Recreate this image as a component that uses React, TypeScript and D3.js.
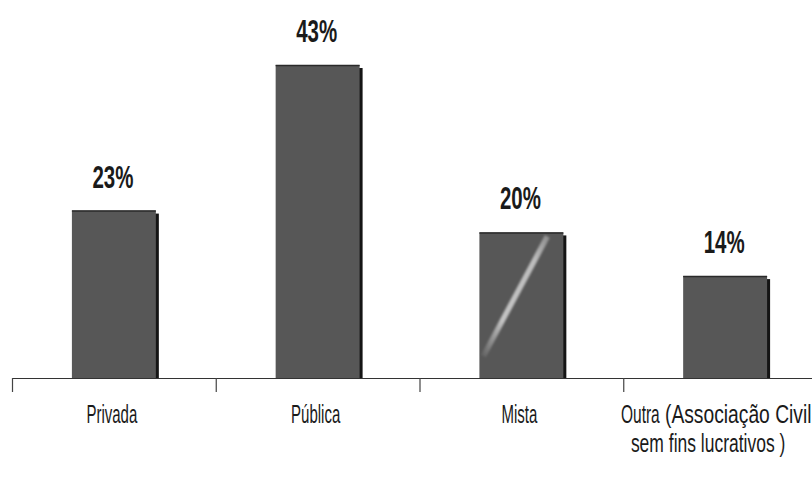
import React from "react";
import * as d3 from "d3";

const categories = ["Privada", "Pública", "Mista", "Outra"];
const values = [23, 43, 20, 14];
const valueLabels = ["23%", "43%", "20%", "14%"];
const categoryLabelLines = [
  ["Privada"],
  ["Pública"],
  ["Mista"],
  ["Outra", "(Associação Civil", "sem fins lucrativos )"],
];

const W = 812;
const H = 481;

export default function App() {
  const x = d3.scaleBand<string>().domain(categories).range([12, 827]).paddingInner(0.588).paddingOuter(0.294);
  const y = d3.scaleLinear().domain([0, 43]).range([378, 65]);
  const step = x.step();
  const tickXs = categories.map((c, i) => 12 + i * step);
  const font = "'Liberation Sans', Arial, sans-serif";
  const labelStyle = { fontFamily: font, fontSize: 25, fill: "#1a1a1a" };

  return (
    <div style={{ position: "fixed", left: 0, top: 0, width: W, height: H, background: "#fff" }}>
      <svg width={W} height={H} style={{ display: "block" }}>
        <defs>
          <linearGradient id="streak" x1="0" y1="1" x2="1" y2="0">
            <stop offset="0" stopColor="#d8d8d8" stopOpacity="0.1" />
            <stop offset="0.3" stopColor="#d0d0d0" stopOpacity="0.9" />
            <stop offset="0.8" stopColor="#c8c8c8" stopOpacity="0.9" />
            <stop offset="1" stopColor="#c8c8c8" stopOpacity="0.5" />
          </linearGradient>
          <filter id="blur" x="-20%" y="-20%" width="140%" height="140%">
            <feGaussianBlur stdDeviation="1.3" />
          </filter>
        </defs>
        {categories.map((c, i) => {
          const bx = x(c)!;
          const bw = x.bandwidth();
          const by = y(values[i]);
          const bh = y(0) - by;
          return (
            <g key={c}>
              <rect x={bx + 3} y={by + 3} width={bw} height={bh - 3} fill="#151515" />
              <rect x={bx} y={by} width={bw} height={bh} fill="#575757" />
              <line x1={bx} x2={bx + bw} y1={by + 0.5} y2={by + 0.5} stroke="#2a2a2a" strokeWidth={1.5} />
              {c === "Mista" && (
                <line
                  x1={bx + 4}
                  y1={y(0) - 22}
                  x2={bx + bw - 16}
                  y2={by + 4}
                  stroke="url(#streak)"
                  strokeWidth={5.5}
                  filter="url(#blur)"
                />
              )}
              <text
                transform={`translate(${bx + bw / 2 - 1}, ${by - 23}) scale(0.66,1)`}
                textAnchor="middle"
                fontFamily={font}
                fontWeight="bold"
                fontSize={31}
                fill="#1a1a1a"
              >
                {valueLabels[i]}
              </text>
            </g>
          );
        })}
        <line x1={12} x2={W} y1={378.5} y2={378.5} stroke="#333" strokeWidth={1.2} />
        {tickXs.map((tx) => (
          <line key={tx} x1={tx + 0.5} x2={tx + 0.5} y1={378} y2={392} stroke="#444" strokeWidth={1.2} />
        ))}
        {categories.map((c, i) => {
          const cx = x(c)! + x.bandwidth() / 2;
          const lines = categoryLabelLines[i];
          if (lines.length === 1) {
            return (
              <text key={c} transform={`translate(${cx - 2}, 423) scale(0.6,1)`} textAnchor="middle" {...labelStyle}>
                {lines[0]}
              </text>
            );
          }
          return (
            <g key={c}>
              <text transform={`translate(621, 423) scale(0.62,1)`} textAnchor="start" {...labelStyle}>
                {lines[0]}
              </text>
              <text transform={`translate(665, 423) scale(0.77,1)`} textAnchor="start" {...labelStyle}>
                {lines[1]}
              </text>
              <text transform={`translate(${cx - 17}, 452) scale(0.7,1)`} textAnchor="middle" {...labelStyle}>
                {lines[2]}
              </text>
            </g>
          );
        })}
      </svg>
    </div>
  );
}
